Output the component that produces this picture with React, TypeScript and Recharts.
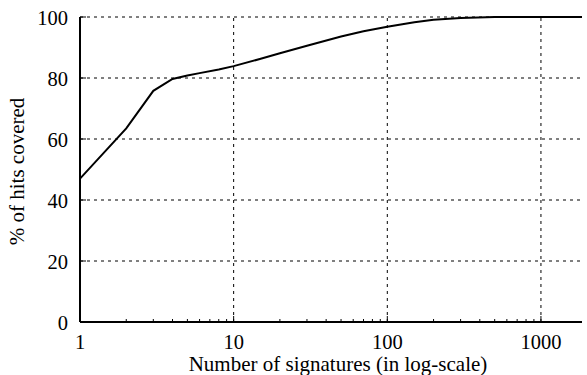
import React from 'react';
import { LineChart, Line, XAxis, YAxis, CartesianGrid, ReferenceLine, Label } from 'recharts';

const signatures = [1, 2, 3, 4, 5, 6, 8, 10, 15, 20, 30, 50, 70, 100, 150, 200, 300, 500, 1000, 1850];
const coverage = [47, 63.5, 75.8, 79.7, 80.8, 81.6, 82.8, 83.9, 86.3, 88.1, 90.6, 93.6, 95.3, 96.8, 98.3, 99.1, 99.7, 100, 100, 100];

const xMajorTicks = [1, 10, 100, 1000];
const xMinorTicks = [2, 3, 4, 5, 6, 7, 8, 9, 20, 30, 40, 50, 60, 70, 80, 90, 200, 300, 400, 500, 600, 700, 800, 900];
const yTicks = [0, 20, 40, 60, 80, 100];
const xLabel = 'Number of signatures (in log-scale)';
const yLabel = '% of hits covered';

const data = signatures.map((s, i) => ({ s, c: coverage[i] }));
const allXTicks = [...xMajorTicks, ...xMinorTicks].sort((a, b) => a - b);

const FONT = '"Liberation Serif", "Times New Roman", serif';
const FS = 20.5;
const LFS = 21;

const XTick = (props: any) => {
  const { x, y, payload } = props;
  const major = xMajorTicks.includes(payload.value);
  return (
    <g>
      <line x1={x} x2={x} y1={y} y2={y - (major ? 6 : 3)} stroke="#000" strokeWidth={1} />
      {major && (
        <text x={x} y={y + 19.5} textAnchor="middle" dominantBaseline="central" fontFamily={FONT} fontSize={FS} fill="#000">
          {payload.value}
        </text>
      )}
    </g>
  );
};

const YTick = (props: any) => {
  const { x, y, payload } = props;
  return (
    <g>
      <line x1={x} x2={x + 6} y1={y} y2={y} stroke="#000" strokeWidth={1} />
      <text x={x - 12} y={y + 1} textAnchor="end" dominantBaseline="central" fontFamily={FONT} fontSize={FS} fill="#000">
        {payload.value}
      </text>
    </g>
  );
};

export default function App() {
  return (
    <div style={{ position: 'absolute', left: 0, top: 0, width: 587, height: 375, background: '#fff' }}>
      <LineChart width={587} height={375} data={data} margin={{ top: 17, right: 5, bottom: 13, left: 20 }}>
        <CartesianGrid vertical={false} stroke="#000" strokeDasharray="3 4" strokeWidth={1} />
        {xMajorTicks.slice(1).map((v) => (
          <ReferenceLine key={v} x={v} stroke="#000" strokeDasharray="3 4" strokeWidth={1} />
        ))}
        <XAxis
          dataKey="s"
          type="number"
          scale="log"
          domain={[1, 1850]}
          allowDataOverflow
          ticks={allXTicks}
          interval={0}
          height={40}
          tickSize={0}
          tickMargin={0}
          tickLine={false}
          axisLine={{ stroke: '#000', strokeWidth: 2 }}
          tick={<XTick />}
        >
          <Label
            content={() => (
              <text x={338} y={371} textAnchor="middle" fontFamily={FONT} fontSize={LFS} fill="#000">
                {xLabel}
              </text>
            )}
          />
        </XAxis>
        <YAxis
          type="number"
          domain={[0, 100]}
          ticks={yTicks}
          interval={0}
          width={60}
          tickSize={0}
          tickMargin={0}
          tickLine={false}
          axisLine={{ stroke: '#000', strokeWidth: 2 }}
          tick={<YTick />}
        >
          <Label
            content={() => (
              <text
                x={0}
                y={0}
                transform="translate(24, 171.5) rotate(-90)"
                textAnchor="middle"
                fontFamily={FONT}
                fontSize={LFS}
                fill="#000"
              >
                {yLabel}
              </text>
            )}
          />
        </YAxis>
        <Line type="linear" dataKey="c" stroke="#000" strokeWidth={2} dot={false} isAnimationActive={false} />
      </LineChart>
    </div>
  );
}
